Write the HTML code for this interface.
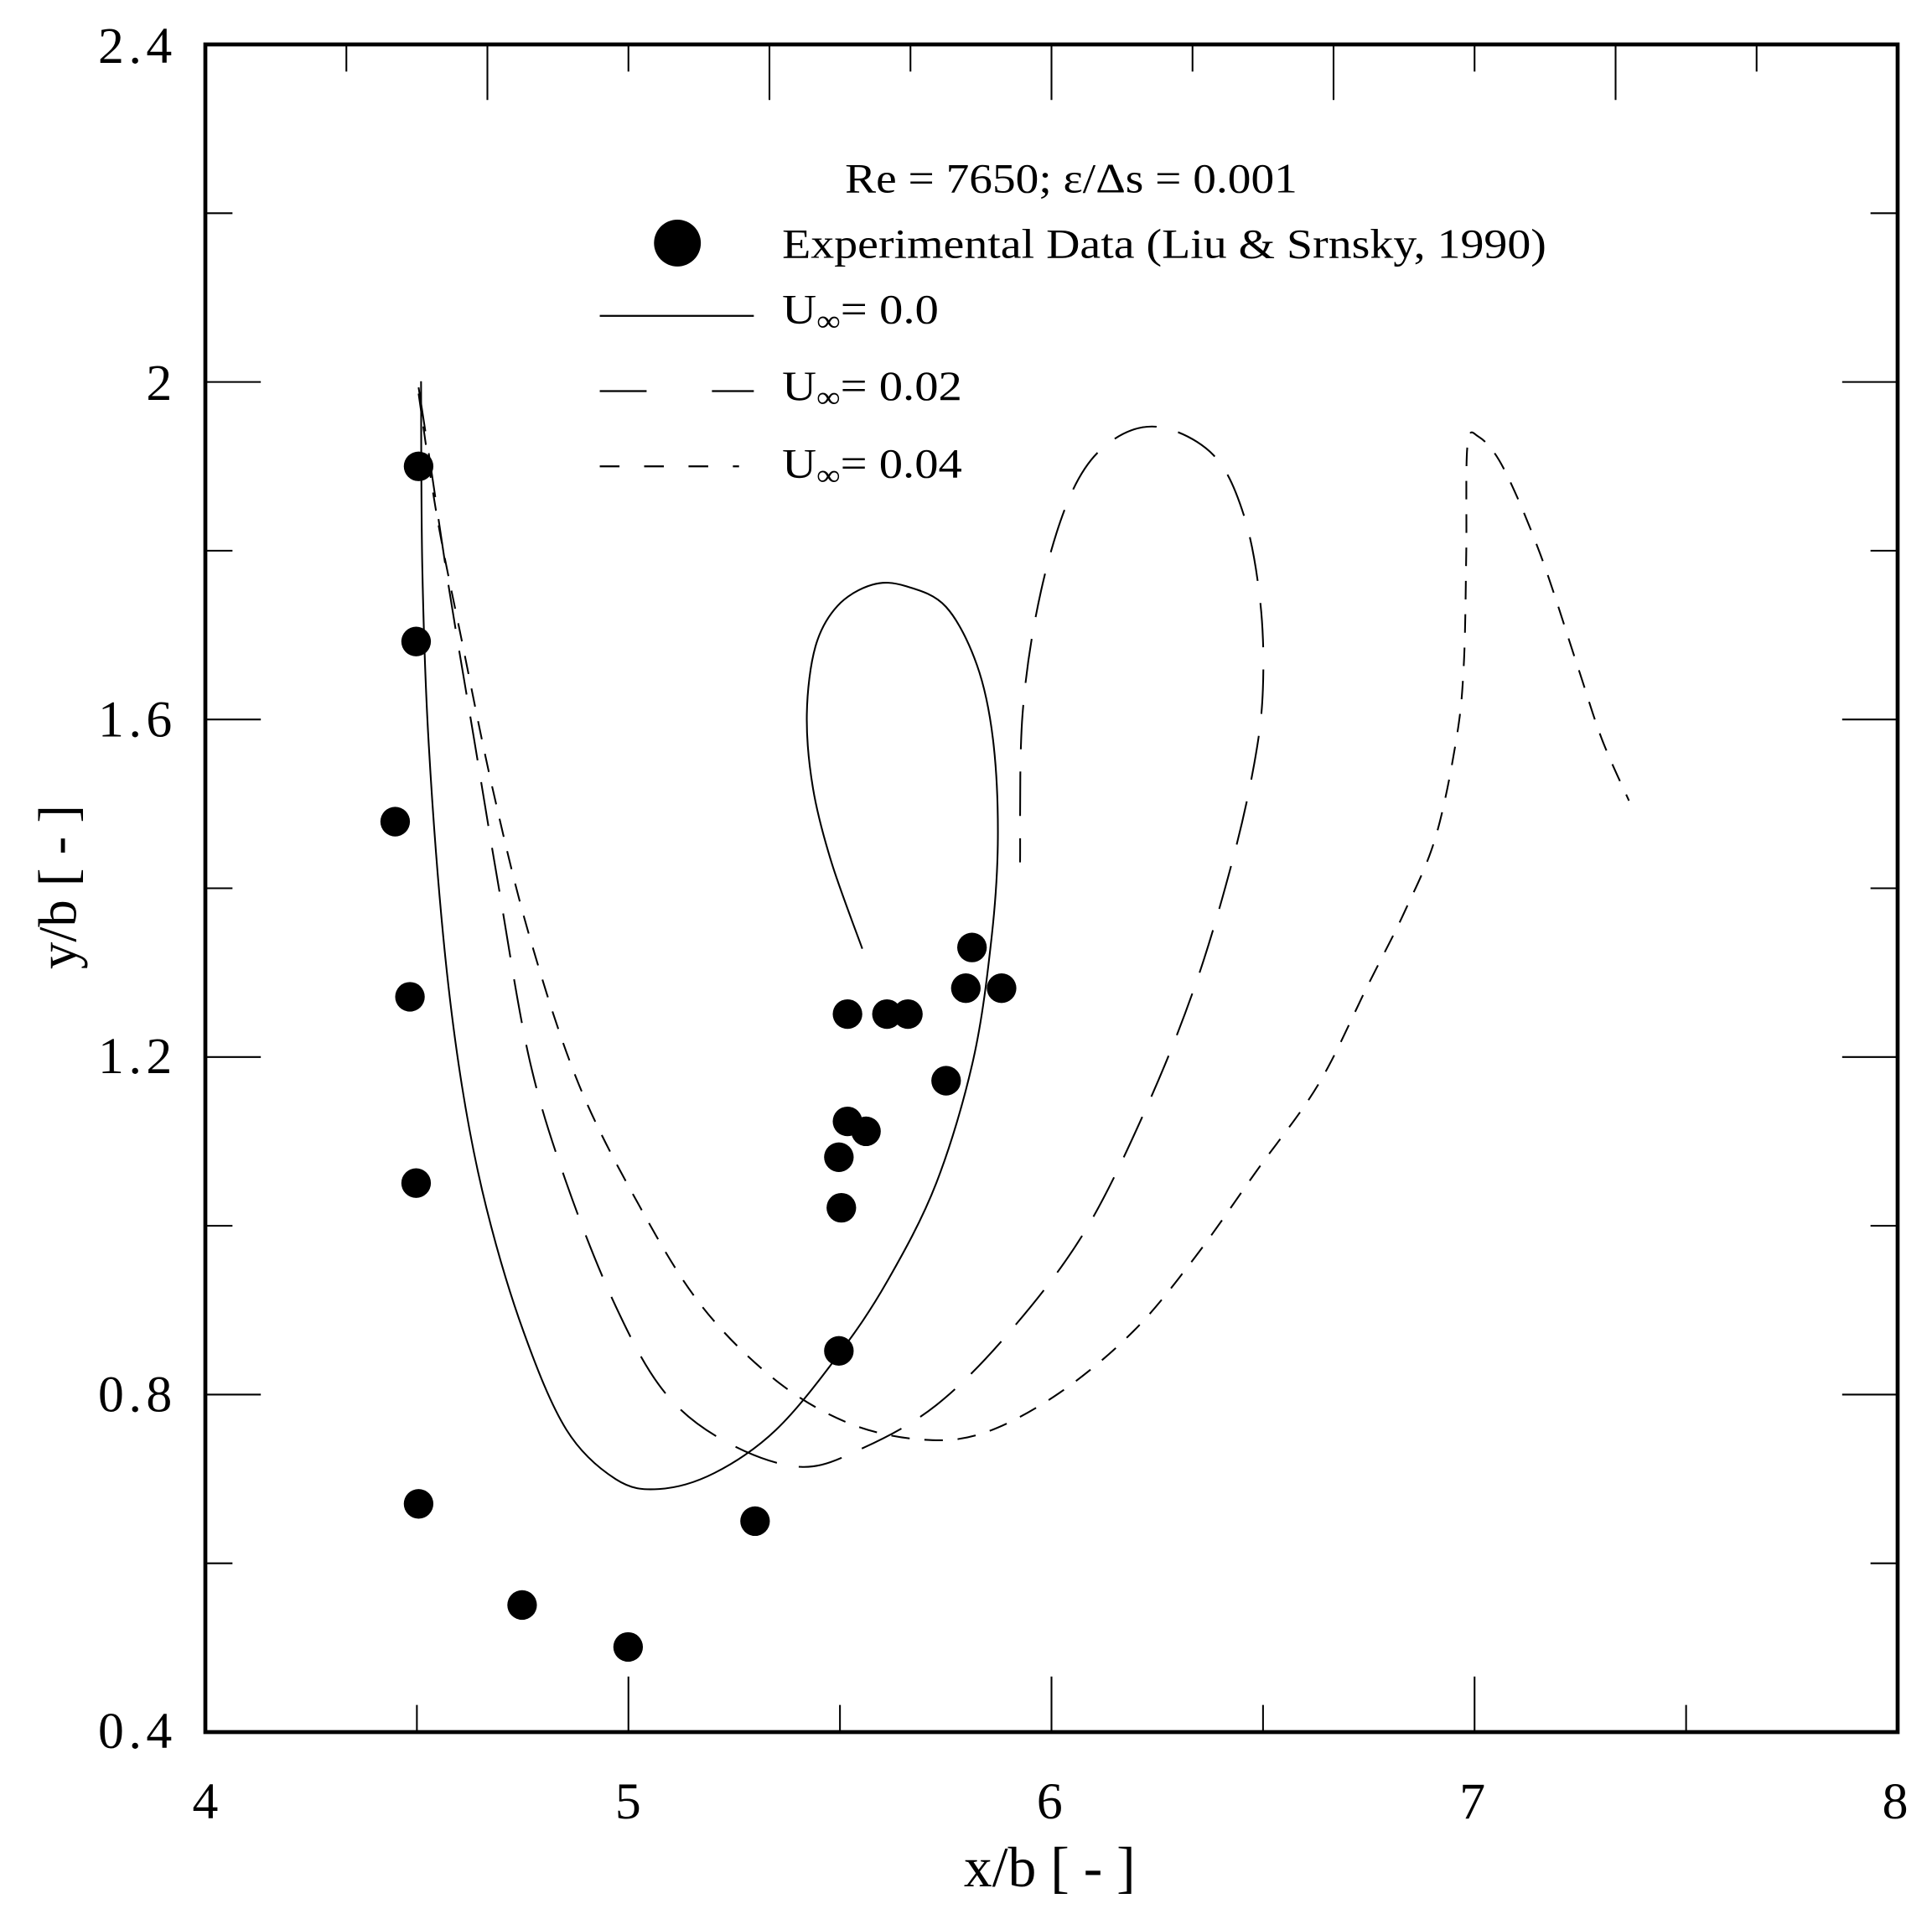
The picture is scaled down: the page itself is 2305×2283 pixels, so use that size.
<!DOCTYPE html>
<html><head><meta charset="utf-8"><style>html,body{margin:0;padding:0;background:#fff}svg{display:block}</style></head>
<body>
<svg id="s" width="2305" height="2283" viewBox="0 0 2305 2283" xmlns="http://www.w3.org/2000/svg">
<rect width="2305" height="2283" fill="#fff"/>
<g id="g" transform="translate(245,53) scale(1.4705,1.4715) translate(-167,-37)" font-family="'Liberation Serif',serif" fill="#000">
<rect x="167" y="37" width="1373" height="1368" fill="none" stroke="#000" stroke-width="3.2"/>
<g id="ticks" stroke="#000" stroke-width="1.4"></g>
<g font-size="42">
<text x="140" y="52" text-anchor="end" textLength="60">2.4</text>
<text x="140" y="325" text-anchor="end">2</text>
<text x="140" y="598" text-anchor="end" textLength="60">1.6</text>
<text x="140" y="871" text-anchor="end" textLength="60">1.2</text>
<text x="140" y="1145" text-anchor="end" textLength="60">0.8</text>
<text x="140" y="1418" text-anchor="end" textLength="60">0.4</text>
<text x="167" y="1475" text-anchor="middle">4</text>
<text x="510" y="1475" text-anchor="middle">5</text>
<text x="852" y="1475" text-anchor="middle">6</text>
<text x="1195" y="1475" text-anchor="middle">7</text>
<text x="1538" y="1475" text-anchor="middle">8</text>
</g>
<text x="852" y="1530" text-anchor="middle" font-size="46">x/b [ - ]</text>
<text transform="translate(62,720) rotate(-90)" text-anchor="middle" font-size="44">y/b [ - ]</text>
<g font-size="34">
<text x="686" y="157" textLength="367" lengthAdjust="spacingAndGlyphs">Re = 7650; ε/Δs = 0.001</text>
<text x="635" y="210" textLength="620" lengthAdjust="spacingAndGlyphs">Experimental Data (Liu &amp; Srnsky, 1990)</text>
<text x="635" y="263" textLength="127" lengthAdjust="spacingAndGlyphs">U<tspan font-size="24" dy="6">∞</tspan><tspan dy="-6">= 0.0</tspan></text>
<text x="635" y="325" textLength="146" lengthAdjust="spacingAndGlyphs">U<tspan font-size="24" dy="6">∞</tspan><tspan dy="-6">= 0.02</tspan></text>
<text x="635" y="388" textLength="146" lengthAdjust="spacingAndGlyphs">U<tspan font-size="24" dy="6">∞</tspan><tspan dy="-6">= 0.04</tspan></text>
</g>
<circle cx="550" cy="198" r="19"/>
<line x1="487" y1="257" x2="612" y2="257" stroke="#000" stroke-width="1.5"/>
<line x1="487" y1="318" x2="612" y2="318" stroke="#000" stroke-width="1.5" stroke-dasharray="38 53 34"/>
<line x1="487" y1="379" x2="600" y2="379" stroke="#000" stroke-width="1.5" stroke-dasharray="16 20"/>
<g id="curves" fill="none" stroke="#000" stroke-width="1.4"></g>
<g id="pts"></g>
</g>
</svg>
<script>
var NS="http://www.w3.org/2000/svg";
function el(p,n,a){var e=document.createElementNS(NS,n);for(var k in a)e.setAttribute(k,a[k]);document.getElementById(p).appendChild(e);}
var L=167,R=1540,T=37,B=1405;
for(var i=0;i<=12;i++){var x=L+i*(R-L)/12;var lg=(i%2==0);if(i>0&&i<12)el("ticks","line",{x1:x,y1:T,x2:x,y2:T+(lg?45:22)});}
for(var i=1;i<8;i++){var x=L+i*(R-L)/8;var lg=(i%2==0);el("ticks","line",{x1:x,y1:B,x2:x,y2:B-(lg?45:22)});}
for(var i=1;i<10;i++){var y=T+i*(B-T)/10;var lg=(i%2==0);el("ticks","line",{x1:L,y1:y,x2:L+(lg?45:22),y2:y});el("ticks","line",{x1:R,y1:y,x2:R-(lg?45:22),y2:y});}
function cr(p){var d="M"+p[0][0]+","+p[0][1];for(var i=0;i<p.length-1;i++){var a=p[Math.max(i-1,0)],b=p[i],c=p[i+1],e=p[Math.min(i+2,p.length-1)];
d+=" C"+(b[0]+(c[0]-a[0])/6)+","+(b[1]+(c[1]-a[1])/6)+" "+(c[0]-(e[0]-b[0])/6)+","+(c[1]-(e[1]-b[1])/6)+" "+c[0]+","+c[1];}return d;}
var c0=[[342,310],[343,460],[348,600],[360,760],[375,880],[395,980],[425,1080],[460,1160],[500,1200],[535,1208],[580,1195],[630,1160],[680,1100],[720,1040],[760,960],[790,860],[805,760],[810,680],[806,600],[793,540],[768,493],[735,476],[708,475],[680,492],[662,525],[655,580],[660,640],[675,700],[700,770]];
var c1=[[340,315],[350,380],[365,480],[385,600],[405,720],[430,860],[460,960],[500,1060],[540,1130],[590,1170],[650,1190],[700,1175],[760,1140],[820,1080],[880,1000],[930,900],[970,800],[1000,700],[1018,620],[1025,560],[1023,490],[1010,420],[985,370],[940,347],[900,360],[870,400],[845,480],[830,580],[828,700]];
var c2=[[340,320],[355,420],[375,520],[400,640],[430,760],[470,880],[520,980],[570,1060],[630,1120],[690,1155],[750,1168],[800,1162],[860,1130],[920,1080],[970,1020],[1020,950],[1070,880],[1110,800],[1140,740],[1165,680],[1182,600],[1188,540],[1190,450],[1191,362],[1200,355],[1220,380],[1250,450],[1280,540],[1300,600],[1322,650]];
el("curves","path",{d:cr(c0)});
el("curves","path",{d:cr(c1),"stroke-dasharray":"36 18"});
el("curves","path",{d:cr(c2),"stroke-dasharray":"15 12"});
var pts=[[340,379],[338,521],[321,667],[333,809],[338,960],[340,1220],[424,1302],[510,1336],[613,1234],[681,1096],[683,980],[681,939],[688,910],[703,918],[688,823],[720,823],[737,823],[768,877],[784,802],[789,769],[813,802]];
pts.forEach(function(p){el("pts","circle",{cx:p[0],cy:p[1],r:12});});
</script>
</body></html>
